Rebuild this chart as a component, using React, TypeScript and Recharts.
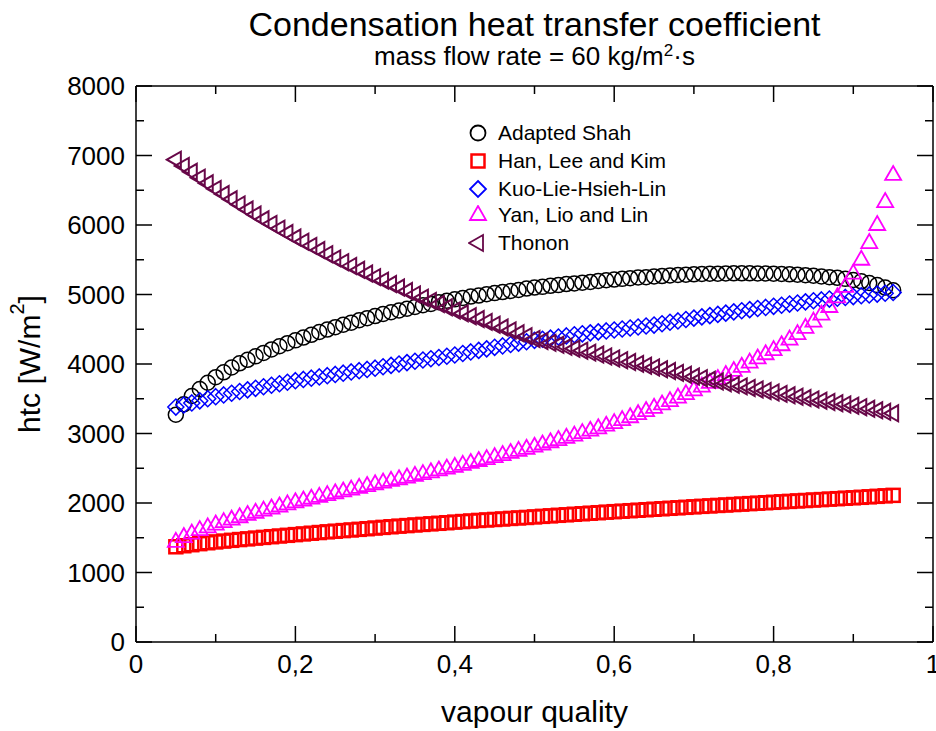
import { ScatterChart, Scatter, XAxis, YAxis } from "recharts"

const FONT = '"Liberation Sans", Arial, Helvetica, sans-serif'

// vapour quality (x)
const QUALITY = [
  0.05, 0.06, 0.07, 0.08, 0.09, 0.1, 0.11, 0.12, 0.13, 0.14,
  0.15, 0.16, 0.17, 0.18, 0.19, 0.2, 0.21, 0.22, 0.23, 0.24,
  0.25, 0.26, 0.27, 0.28, 0.29, 0.3, 0.31, 0.32, 0.33, 0.34,
  0.35, 0.36, 0.37, 0.38, 0.39, 0.4, 0.41, 0.42, 0.43, 0.44,
  0.45, 0.46, 0.47, 0.48, 0.49, 0.5, 0.51, 0.52, 0.53, 0.54,
  0.55, 0.56, 0.57, 0.58, 0.59, 0.6, 0.61, 0.62, 0.63, 0.64,
  0.65, 0.66, 0.67, 0.68, 0.69, 0.7, 0.71, 0.72, 0.73, 0.74,
  0.75, 0.76, 0.77, 0.78, 0.79, 0.8, 0.81, 0.82, 0.83, 0.84,
  0.85, 0.86, 0.87, 0.88, 0.89, 0.9, 0.91, 0.92, 0.93, 0.94,
  0.95,
]

// htc [W/m2]
const ADAPTED_SHAH = [
  3270, 3420, 3540, 3640, 3730, 3810, 3880, 3950, 4010, 4060,
  4110, 4160, 4210, 4255, 4300, 4340, 4380, 4420, 4460, 4495,
  4530, 4565, 4595, 4630, 4660, 4690, 4720, 4745, 4770, 4795,
  4820, 4845, 4865, 4890, 4910, 4930, 4950, 4970, 4985, 5005,
  5020, 5035, 5050, 5065, 5085, 5100, 5110, 5125, 5135, 5150,
  5160, 5170, 5180, 5195, 5205, 5215, 5225, 5235, 5245, 5250,
  5260, 5265, 5275, 5280, 5285, 5290, 5295, 5298, 5300, 5303,
  5305, 5305, 5305, 5303, 5302, 5300, 5295, 5290, 5285, 5278,
  5270, 5260, 5250, 5240, 5225, 5210, 5190, 5165, 5135, 5100,
  5060,
]

const HAN_LEE_KIM = [
  1370, 1385, 1400, 1415, 1428, 1440, 1452, 1463, 1474, 1484,
  1495, 1505, 1515, 1525, 1535, 1545, 1555, 1565, 1575, 1585,
  1594, 1603, 1612, 1621, 1630, 1640, 1649, 1658, 1667, 1675,
  1684, 1692, 1700, 1708, 1716, 1725, 1733, 1741, 1749, 1756,
  1763, 1770, 1778, 1785, 1792, 1800, 1808, 1815, 1823, 1830,
  1838, 1845, 1853, 1860, 1868, 1875, 1882, 1889, 1896, 1903,
  1910, 1917, 1924, 1931, 1938, 1945, 1952, 1958, 1965, 1971,
  1978, 1984, 1991, 1997, 2004, 2010, 2017, 2023, 2030, 2036,
  2043, 2049, 2056, 2062, 2069, 2075, 2082, 2089, 2096, 2103,
  2110,
]

const KUO_LIE_HSIEH_LIN = [
  3380, 3410, 3440, 3470, 3500, 3530, 3555, 3580, 3605, 3628,
  3650, 3672, 3694, 3716, 3738, 3760, 3778, 3796, 3814, 3832,
  3850, 3868, 3886, 3904, 3922, 3940, 3960, 3980, 4000, 4020,
  4040, 4058, 4076, 4094, 4112, 4130, 4152, 4174, 4196, 4218,
  4240, 4260, 4280, 4300, 4320, 4340, 4356, 4372, 4388, 4404,
  4420, 4434, 4448, 4462, 4476, 4490, 4504, 4518, 4532, 4546,
  4560, 4580, 4600, 4620, 4640, 4660, 4678, 4696, 4714, 4732,
  4750, 4766, 4782, 4798, 4814, 4830, 4846, 4862, 4878, 4894,
  4910, 4922, 4934, 4946, 4958, 4970, 4982, 4994, 5006, 5018,
  5030,
]

const YAN_LIO_LIN = [
  1440, 1510, 1560, 1610, 1650, 1690, 1725, 1760, 1795, 1828,
  1860, 1890, 1920, 1950, 1980, 2010, 2036, 2062, 2088, 2114,
  2140, 2166, 2192, 2218, 2244, 2270, 2294, 2318, 2342, 2366,
  2390, 2416, 2442, 2468, 2494, 2520, 2548, 2576, 2604, 2632,
  2660, 2690, 2720, 2750, 2780, 2810, 2842, 2874, 2906, 2938,
  2970, 3005, 3040, 3075, 3112, 3150, 3192, 3234, 3278, 3323,
  3370, 3418, 3466, 3516, 3567, 3620, 3674, 3728, 3784, 3842,
  3900, 3960, 4020, 4080, 4140, 4200, 4270, 4350, 4430, 4520,
  4610, 4710, 4820, 4960, 5110, 5300, 5500, 5740, 6000, 6330,
  6720,
]

const THONON = [
  6940, 6850, 6765, 6680, 6600, 6520, 6445, 6370, 6295, 6222,
  6150, 6082, 6015, 5948, 5884, 5820, 5760, 5700, 5640, 5580,
  5520, 5465, 5410, 5356, 5302, 5250, 5200, 5150, 5100, 5050,
  5000, 4954, 4908, 4862, 4816, 4770, 4729, 4688, 4647, 4606,
  4565, 4524, 4483, 4442, 4401, 4360, 4332, 4304, 4276, 4248,
  4220, 4192, 4164, 4136, 4108, 4080, 4054, 4028, 4002, 3976,
  3950, 3924, 3898, 3872, 3846, 3820, 3796, 3772, 3748, 3724,
  3700, 3678, 3656, 3634, 3612, 3590, 3570, 3550, 3530, 3510,
  3490, 3472, 3454, 3436, 3418, 3400, 3378, 3356, 3334, 3312,
  3290,
]

const X_TICKS = [0, 0.1, 0.2, 0.3, 0.4, 0.5, 0.6, 0.7, 0.8, 0.9, 1]
const Y_TICKS = [0, 500, 1000, 1500, 2000, 2500, 3000, 3500, 4000, 4500, 5000, 5500, 6000, 6500, 7000, 7500, 8000]

type MarkerKind = "circle" | "square" | "diamond" | "triangleUp" | "triangleLeft"

const SERIES: { name: string; values: number[]; color: string; marker: MarkerKind; width: number }[] = [
  { name: "Adapted Shah", values: ADAPTED_SHAH, color: "#000000", marker: "circle", width: 1.5 },
  { name: "Han, Lee and Kim", values: HAN_LEE_KIM, color: "#ff0000", marker: "square", width: 2.5 },
  { name: "Kuo-Lie-Hsieh-Lin", values: KUO_LIE_HSIEH_LIN, color: "#0000ff", marker: "diamond", width: 1.5 },
  { name: "Yan, Lio and Lin", values: YAN_LIO_LIN, color: "#ff00ff", marker: "triangleUp", width: 1.8 },
  { name: "Thonon", values: THONON, color: "#670748", marker: "triangleLeft", width: 2 },
]

const W = 936
const H = 731
// plot box edges, in page pixels
const PLOT = { top: 86, bottom: 642, left: 136, right: 933 }
const MAJOR = 16
const MINOR = 8

function Marker({ kind, cx, cy, color, width }: { kind: MarkerKind; cx: number; cy: number; color: string; width: number }) {
  const common = { fill: "none", stroke: color, strokeWidth: width }
  switch (kind) {
    case "circle":
      return <circle cx={cx} cy={cy} r={7.5} {...common} />
    case "square":
      return <rect x={cx - 6.5} y={cy - 6.5} width={13} height={13} {...common} />
    case "diamond":
      return <polygon points={`${cx},${cy - 8} ${cx + 8},${cy} ${cx},${cy + 8} ${cx - 8},${cy}`} {...common} />
    case "triangleUp":
      return <polygon points={`${cx},${cy - 9} ${cx + 8},${cy + 5} ${cx - 8},${cy + 5}`} {...common} />
    default:
      return <polygon points={`${cx - 9},${cy} ${cx + 5},${cy - 8} ${cx + 5},${cy + 8}`} {...common} />
  }
}

const fmtX = (v: number) => (v === 0 || v === 1 ? String(v) : v.toFixed(1).replace(".", ","))
const tickLen = (index: number) => (index % 2 === 0 ? MAJOR : MINOR)

// inward ticks; only the along-axis coordinate is taken from recharts
const renderBottomTick = (props: any) => {
  const { x, payload, index } = props
  const b = PLOT.bottom
  return (
    <g key={`bt-${index}`}>
      <path d={`M${x},${b}V${b - tickLen(index)}`} stroke="#000" strokeWidth={1.5} fill="none" />
      {index % 2 === 0 && (
        <text x={x} y={b + 31} textAnchor="middle" fontSize={26} fontFamily={FONT} fill="#000">
          {fmtX(payload.value)}
        </text>
      )}
    </g>
  )
}

const renderLeftTick = (props: any) => {
  const { y, payload, index } = props
  const l = PLOT.left
  return (
    <g key={`lt-${index}`}>
      <path d={`M${l},${y}H${l + tickLen(index)}`} stroke="#000" strokeWidth={1.5} fill="none" />
      {index % 2 === 0 && (
        <text x={l - 11} y={y + 9} textAnchor="end" fontSize={26} fontFamily={FONT} fill="#000">
          {payload.value}
        </text>
      )}
    </g>
  )
}

const renderTopTick = (props: any) => {
  const { x, index } = props
  return <path key={`tt-${index}`} d={`M${x},${PLOT.top}V${PLOT.top + tickLen(index)}`} stroke="#000" strokeWidth={1.5} fill="none" />
}

const renderRightTick = (props: any) => {
  const { y, index } = props
  return <path key={`rt-${index}`} d={`M${PLOT.right},${y}H${PLOT.right - tickLen(index)}`} stroke="#000" strokeWidth={1.5} fill="none" />
}

function YTitle(props: any) {
  const vb = props.viewBox
  const cx = 29
  const cy = vb.y + vb.height / 2
  return (
    <text x={cx} y={cy} transform={`rotate(-90 ${cx} ${cy})`} textAnchor="middle" dominantBaseline="central" fontSize={30} fontFamily={FONT} fill="#000">
      htc [W/m<tspan fontSize={20} dy={-12}>2</tspan><tspan dy={12}>]</tspan>
    </text>
  )
}

function XTitle(props: any) {
  const vb = props.viewBox
  return (
    <text x={vb.x + vb.width / 2} y={PLOT.bottom + 80} textAnchor="middle" fontSize={30} fontFamily={FONT} fill="#000">
      vapour quality
    </text>
  )
}

const axisLine = { stroke: "#000", strokeWidth: 1.5 }

export default function App() {
  return (
    <div style={{ position: "absolute", left: 0, top: 0, width: W, height: H, background: "#fff", fontFamily: FONT }}>
      <div style={{ position: "absolute", left: PLOT.left, width: PLOT.right - PLOT.left, top: 9, textAlign: "center", fontSize: 34, lineHeight: 0.9, color: "#000" }}>
        Condensation heat transfer coefficient
      </div>
      <div style={{ position: "absolute", left: PLOT.left, width: PLOT.right - PLOT.left, top: 43, textAlign: "center", fontSize: 26, lineHeight: 1, color: "#000" }}>
        mass flow rate = 60 kg/m<sup style={{ fontSize: 17, verticalAlign: 0, position: "relative", top: -9 }}>2</sup>·s
      </div>

      <ScatterChart width={W} height={H} margin={{ top: PLOT.top - 1, right: W - PLOT.right - 1, bottom: 0, left: 0 }}>
        <XAxis
          xAxisId="bottom"
          dataKey="x"
          type="number"
          domain={[0, 1]}
          ticks={X_TICKS}
          interval={0}
          height={H - PLOT.bottom}
          tickLine={false}
          axisLine={axisLine}
          tick={renderBottomTick}
          label={<XTitle />}
        />
        <XAxis
          xAxisId="top"
          orientation="top"
          dataKey="x"
          type="number"
          domain={[0, 1]}
          ticks={X_TICKS}
          interval={0}
          height={1}
          tickLine={false}
          axisLine={axisLine}
          tick={renderTopTick}
        />
        <YAxis
          yAxisId="left"
          dataKey="y"
          type="number"
          domain={[0, 8000]}
          ticks={Y_TICKS}
          interval={0}
          width={PLOT.left}
          tickLine={false}
          axisLine={axisLine}
          tick={renderLeftTick}
          label={<YTitle />}
        />
        <YAxis
          yAxisId="right"
          orientation="right"
          dataKey="y"
          type="number"
          domain={[0, 8000]}
          ticks={Y_TICKS}
          interval={0}
          width={1}
          tickLine={false}
          axisLine={axisLine}
          tick={renderRightTick}
        />
        {SERIES.map((s) => (
          <Scatter
            key={s.name}
            name={s.name}
            xAxisId="bottom"
            yAxisId="left"
            data={QUALITY.map((x, i) => ({ x, y: s.values[i] }))}
            isAnimationActive={false}
            shape={(p: any) => <Marker kind={s.marker} cx={p.cx} cy={p.cy} color={s.color} width={s.width} />}
          />
        ))}
        {/* invisible copy bound to the mirror axes so the top and right sides of the frame get drawn */}
        <Scatter
          name="frame"
          xAxisId="top"
          yAxisId="right"
          legendType="none"
          data={QUALITY.map((x, i) => ({ x, y: THONON[i] }))}
          isAnimationActive={false}
          shape={() => <g />}
        />
      </ScatterChart>

      <div style={{ position: "absolute", left: 468, top: 120 }}>
        {SERIES.map((s, i) => (
          <div key={s.name} style={{ position: "absolute", left: 0, top: [3, 31, 59, 85, 113][i], height: 20, whiteSpace: "nowrap" }}>
            <svg width={22} height={20} style={{ position: "absolute", left: 0, top: 0 }}>
              <Marker kind={s.marker} cx={10} cy={10} color={s.color} width={s.marker === "square" ? 2.5 : 1.8} />
            </svg>
            <span style={{ position: "absolute", left: 30, top: 0, fontSize: 21, lineHeight: "20px", color: "#000" }}>{s.name}</span>
          </div>
        ))}
      </div>
    </div>
  )
}
